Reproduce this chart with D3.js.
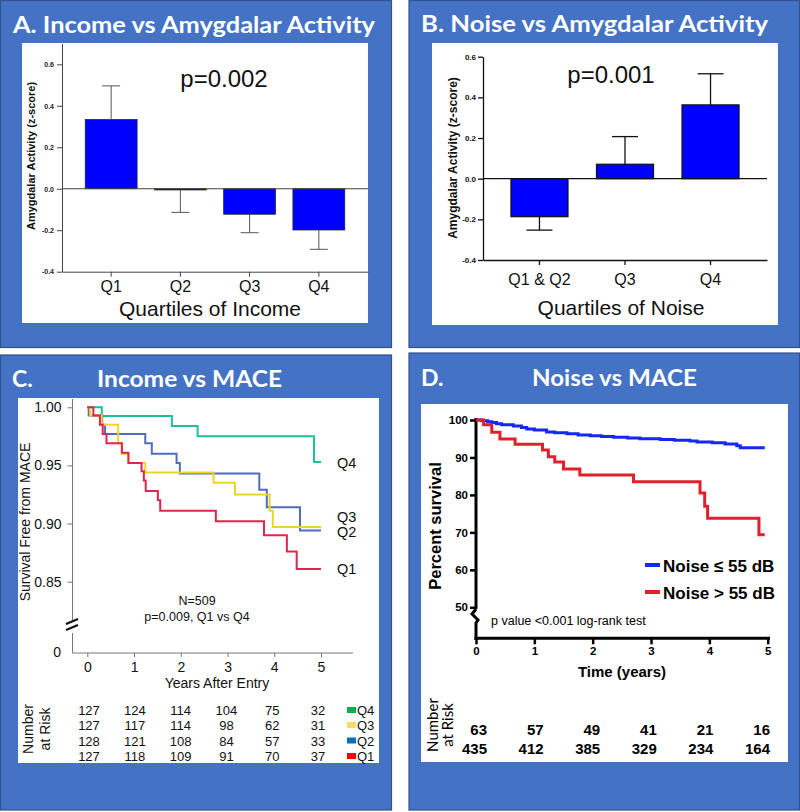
<!DOCTYPE html>
<html><head><meta charset="utf-8">
<script src="https://cdn.jsdelivr.net/npm/d3@7"></script>
<style>body{margin:0;background:#fff}svg{display:block}</style>
</head><body>
<svg id="c" width="800" height="812"></svg>
<script>
// ---------- DATA ----------
const incomeCats = ["Q1", "Q2", "Q3", "Q4"];
const incomeMeans = [0.334, -0.006, -0.123, -0.199];
const incomeErrEnd = [0.496, -0.114, -0.212, -0.292];
const noiseCats = ["Q1 & Q2", "Q3", "Q4"];
const noiseMeans = [-0.187, 0.071, 0.363];
const noiseErrEnd = [-0.253, 0.207, 0.516];
const barTicks = [-0.4, -0.2, 0.0, 0.2, 0.4, 0.6];

// Panel C Kaplan-Meier (years, survival)
const kmQ4 = [[0,1],[0.31,0.9925],[1.81,0.984],[2.36,0.975],[4.85,0.953],[5.0,0.953]];
const kmQ3 = [[0,1],[0.06,0.993],[0.31,0.985],[0.66,0.969],[0.74,0.960],[0.88,0.952],[1.24,0.944],[2.70,0.935],[3.16,0.925],[3.90,0.911],[3.97,0.897],[5.0,0.897]];
const kmQ2 = [[0,1],[0.03,0.993],[0.32,0.985],[0.38,0.977],[1.24,0.969],[1.38,0.960],[1.91,0.952],[1.98,0.943],[3.68,0.929],[3.84,0.914],[4.55,0.894],[5.0,0.894]];
const kmQ1 = [[0,1],[0.13,0.993],[0.27,0.985],[0.33,0.977],[0.41,0.969],[0.74,0.961],[0.88,0.952],[1.16,0.945],[1.21,0.937],[1.25,0.928],[1.51,0.920],[1.56,0.911],[2.75,0.902],[3.78,0.890],[4.27,0.876],[4.48,0.861],[5.0,0.861]];
const kmCTicks = [0.85, 0.90, 0.95, 1.00];
const yearTicks = [0, 1, 2, 3, 4, 5];
const riskQ4 = [127,124,114,104,75,32];
const riskQ3 = [127,117,114,98,62,31];
const riskQ2 = [128,121,108,84,57,33];
const riskQ1 = [127,118,109,91,70,37];

// Panel D Kaplan-Meier (years, percent survival)
const kmLow = [[0,100],[0.10,99.8],[0.20,99.5],[0.27,99.3],[0.35,99.0],[0.44,98.7],[0.64,98.4],[0.78,98.0],[0.87,97.6],[1.0,97.3],[1.21,96.8],[1.35,96.6],[1.56,96.3],[1.75,96.0],[1.96,95.8],[2.15,95.6],[2.36,95.4],[2.6,95.2],[2.81,95.0],[3.16,94.8],[3.4,94.6],[3.67,94.4],[3.79,94.1],[4.05,93.9],[4.27,93.6],[4.47,93.1],[4.53,92.6],[4.95,92.6]];
const kmHigh = [[0,100],[0.13,98.7],[0.27,96.7],[0.41,94.9],[0.67,93.5],[1.14,92.0],[1.24,90.2],[1.35,88.8],[1.50,86.9],[1.78,85.3],[2.70,83.5],[3.84,80.5],[3.92,77.0],[3.97,73.8],[4.85,69.4],[4.95,69.4]];
const kmDTicks = [50, 60, 70, 80, 90, 100];
const riskHigh = [63,57,49,41,21,16];
const riskLow = [435,412,385,329,234,164];

// ---------- DRAW ----------
const svg = d3.select("#c");
const BLUE = "#4472C4", EDGE = "#2F528F";
const ARIAL = "'Liberation Sans', Arial, sans-serif";
const CAL = "Lato, 'Open Sans', sans-serif";

function panel(x, y, w, h, wx, wy, ww, wh) {
  svg.append("rect").attr("x", x).attr("y", y).attr("width", w).attr("height", h)
    .attr("fill", BLUE).attr("stroke", EDGE).attr("stroke-width", 1.2);
  svg.append("rect").attr("x", wx).attr("y", wy).attr("width", ww).attr("height", wh).attr("fill", "#fff");
}
function title(txt, x, y, len, size, anchor) {
  const t = svg.append("text").attr("x", x).attr("y", y).text(txt)
    .attr("font-family", CAL).attr("font-weight", 700).attr("font-size", size)
    .attr("fill", "#fff").attr("text-anchor", anchor || "start");
  if (len) t.attr("textLength", len).attr("lengthAdjust", "spacingAndGlyphs");
  return t;
}

panel(0.5, 0.5, 391, 347, 22, 43, 346, 280);
panel(409, 0.5, 390.5, 347, 432, 43, 346, 282);
panel(0.5, 355, 391, 455, 18, 398, 361, 365);
panel(409, 353, 390.5, 457, 421, 404, 367, 358);

title("A. Income vs Amygdalar Activity", 13, 33, 362, 23);
title("B.  Noise vs Amygdalar Activity", 421, 32, 347, 23);
title("C.", 12, 387, null, 23);
title("Income vs MACE", 97, 387, 185, 23);
title("D.", 421, 386, null, 23);
title("Noise vs MACE", 532, 386, 165, 23);

// ---- Panel A ----
(function () {
  const g = svg.append("g");
  const x = d3.scaleBand(incomeCats, [62, 368]).paddingInner(0.25).paddingOuter(0.335);
  const y = d3.scaleLinear([-0.4, 0.7], [271.7, 43.6]);
  const col = "#444";
  incomeCats.forEach((c, i) => {
    const v = incomeMeans[i];
    g.append("rect").attr("x", x(c)).attr("width", x.bandwidth())
      .attr("y", Math.min(y(v), y(0))).attr("height", Math.max(1, Math.abs(y(v) - y(0))))
      .attr("fill", "#0000FF").attr("stroke", "#222").attr("stroke-width", 0.7);
    const cx = x(c) + x.bandwidth() / 2;
    g.append("line").attr("x1", cx).attr("x2", cx).attr("y1", y(v)).attr("y2", y(incomeErrEnd[i]))
      .attr("stroke", "#555").attr("stroke-width", 1);
    g.append("line").attr("x1", cx - 9).attr("x2", cx + 9).attr("y1", y(incomeErrEnd[i])).attr("y2", y(incomeErrEnd[i]))
      .attr("stroke", "#555").attr("stroke-width", 1);
  });
  g.append("line").attr("x1", 62).attr("x2", 368).attr("y1", y(0)).attr("y2", y(0)).attr("stroke", col).attr("stroke-width", 1);
  const ya = g.append("g").attr("transform", "translate(62,0)")
    .call(d3.axisLeft(y).tickValues(barTicks).tickFormat(d => d.toFixed(1)).tickSize(5).tickSizeOuter(0).tickPadding(3));
  ya.selectAll("path,line").attr("stroke", col);
  ya.selectAll("text").attr("font-family", ARIAL).attr("font-weight", 700).attr("font-size", 7).attr("fill", "#222");
  const xa = g.append("g").attr("transform", "translate(0,271.7)")
    .call(d3.axisBottom(x).tickSize(5).tickSizeOuter(0).tickPadding(4));
  xa.selectAll("path,line").attr("stroke", col);
  xa.selectAll("text").attr("font-family", ARIAL).attr("font-size", 16).attr("fill", "#111");
  g.append("text").attr("transform", "translate(35,156) rotate(-90)").attr("text-anchor", "middle")
    .attr("font-family", ARIAL).attr("font-weight", 700).attr("font-size", 11).attr("fill", "#111")
    .text("Amygdalar Activity (z-score)");
  g.append("text").attr("x", 210).attr("y", 316).attr("text-anchor", "middle")
    .attr("font-family", ARIAL).attr("font-size", 21).attr("fill", "#111").text("Quartiles of Income");
  g.append("text").attr("x", 224).attr("y", 87).attr("text-anchor", "middle")
    .attr("font-family", ARIAL).attr("font-size", 24).attr("fill", "#111").text("p=0.002");
})();

// ---- Panel B ----
(function () {
  const g = svg.append("g");
  const x = d3.scaleBand(noiseCats, [483, 767]).paddingInner(1/3).paddingOuter(0.327);
  const y = d3.scaleLinear([-0.4, 0.6], [260, 56.7]);
  noiseCats.forEach((c, i) => {
    const v = noiseMeans[i];
    g.append("rect").attr("x", x(c)).attr("width", x.bandwidth())
      .attr("y", Math.min(y(v), y(0))).attr("height", Math.abs(y(v) - y(0)))
      .attr("fill", "#0000FF").attr("stroke", "#111").attr("stroke-width", 1.2);
    const cx = x(c) + x.bandwidth() / 2;
    g.append("line").attr("x1", cx).attr("x2", cx).attr("y1", y(v)).attr("y2", y(noiseErrEnd[i]))
      .attr("stroke", "#111").attr("stroke-width", 1.3);
    g.append("line").attr("x1", cx - 13).attr("x2", cx + 13).attr("y1", y(noiseErrEnd[i])).attr("y2", y(noiseErrEnd[i]))
      .attr("stroke", "#111").attr("stroke-width", 1.3);
  });
  g.append("line").attr("x1", 483).attr("x2", 767).attr("y1", y(0)).attr("y2", y(0)).attr("stroke", "#111").attr("stroke-width", 1.3);
  const ya = g.append("g").attr("transform", "translate(483,0)")
    .call(d3.axisLeft(y).tickValues(barTicks).tickFormat(d => d.toFixed(1)).tickSize(5).tickSizeOuter(0).tickPadding(2));
  ya.selectAll("path,line").attr("stroke", "#111").attr("stroke-width", 1.3);
  ya.selectAll("text").attr("font-family", ARIAL).attr("font-weight", 700).attr("font-size", 8).attr("fill", "#111");
  const xa = g.append("g").attr("transform", "translate(0,260)")
    .call(d3.axisBottom(x).tickSize(5).tickSizeOuter(0).tickPadding(8.5));
  xa.selectAll("path,line").attr("stroke", "#111").attr("stroke-width", 1.3);
  xa.selectAll("text").attr("font-family", ARIAL).attr("font-size", 16).attr("fill", "#111");
  g.append("text").attr("transform", "translate(457,158) rotate(-90)").attr("text-anchor", "middle")
    .attr("font-family", ARIAL).attr("font-weight", 700).attr("font-size", 12).attr("fill", "#111")
    .text("Amygdalar Activity (z-score)");
  g.append("text").attr("x", 621).attr("y", 315).attr("text-anchor", "middle")
    .attr("font-family", ARIAL).attr("font-size", 21).attr("fill", "#111").text("Quartiles of Noise");
  g.append("text").attr("x", 611).attr("y", 83).attr("text-anchor", "middle")
    .attr("font-family", ARIAL).attr("font-size", 24).attr("fill", "#111").text("p=0.001");
})();

// ---- Panel C ----
(function () {
  const g = svg.append("g");
  const x = d3.scaleLinear([0, 5], [87.3, 321]);
  const y = d3.scaleLinear([0.8, 1.0], [639.8, 407.3]);
  const col = "#777";
  g.append("line").attr("x1", 72.5).attr("x2", 72.5).attr("y1", 399).attr("y2", 620).attr("stroke", col);
  g.append("line").attr("x1", 72.5).attr("x2", 72.5).attr("y1", 633).attr("y2", 653).attr("stroke", col);
  g.append("line").attr("x1", 66).attr("x2", 78).attr("y1", 624).attr("y2", 619).attr("stroke", "#111").attr("stroke-width", 2.2);
  g.append("line").attr("x1", 66).attr("x2", 78).attr("y1", 630).attr("y2", 625).attr("stroke", "#111").attr("stroke-width", 2.2);
  const ya = g.append("g").attr("transform", "translate(72.5,0)")
    .call(d3.axisLeft(y).tickValues(kmCTicks).tickFormat(d3.format(".2f")).tickSize(5).tickPadding(6));
  ya.select("path").remove();
  ya.selectAll("line").attr("stroke", col);
  ya.selectAll("text").attr("font-family", ARIAL).attr("font-size", 14).attr("fill", "#111");
  g.append("text").attr("x", 61).attr("y", 657).attr("text-anchor", "end")
    .attr("font-family", ARIAL).attr("font-size", 14).attr("fill", "#111").text("0");
  const xa = g.append("g").attr("transform", "translate(0,653)")
    .call(d3.axisBottom(x).tickValues(yearTicks).tickFormat(d3.format("d")).tickSize(4).tickSizeOuter(0).tickPadding(5));
  xa.select("path").remove();
  g.append("line").attr("x1", 72.5).attr("x2", 353).attr("y1", 653).attr("y2", 653).attr("stroke", col);
  xa.selectAll("line").attr("stroke", col);
  xa.selectAll("text").attr("font-family", ARIAL).attr("font-size", 14).attr("fill", "#111");
  g.append("text").attr("x", 217).attr("y", 688).attr("text-anchor", "middle")
    .attr("font-family", ARIAL).attr("font-size", 14).attr("fill", "#111").text("Years After Entry");
  g.append("text").attr("transform", "translate(30,522) rotate(-90)").attr("text-anchor", "middle")
    .attr("font-family", ARIAL).attr("font-size", 14).attr("fill", "#111").text("Survival Free from MACE");
  const line = d3.line().x(d => x(d[0])).y(d => y(d[1])).curve(d3.curveStepAfter);
  const series = [
    {d: kmQ4, c: "#1FC0A0"},
    {d: kmQ2, c: "#4F6DBE"},
    {d: kmQ3, c: "#EBD52A"},
    {d: kmQ1, c: "#E3244B"}
  ];
  series.forEach(s => {
    g.append("path").attr("d", line(s.d)).attr("fill", "none").attr("stroke", s.c)
      .attr("stroke-width", 2).attr("stroke-linejoin", "miter");
  });
  const labY = {Q4: 468, Q3: 522, Q2: 537, Q1: 574};
  Object.keys(labY).forEach(k => {
    g.append("text").attr("x", 337).attr("y", labY[k]).attr("font-family", ARIAL).attr("font-size", 14.5)
      .attr("fill", "#111").text(k);
  });
  g.append("text").attr("x", 197).attr("y", 605).attr("text-anchor", "middle")
    .attr("font-family", ARIAL).attr("font-size", 12.5).attr("fill", "#111").text("N=509");
  g.append("text").attr("x", 197).attr("y", 621).attr("text-anchor", "middle")
    .attr("font-family", ARIAL).attr("font-size", 12.5).attr("fill", "#111").text("p=0.009, Q1 vs Q4");
  const rx = d3.scaleLinear([0, 5], [89, 318]);
  const rows = [
    {v: riskQ4, c: "#00B050", lab: "Q4", y: 715},
    {v: riskQ3, c: "#FFD966", lab: "Q3", y: 730},
    {v: riskQ2, c: "#0070C0", lab: "Q2", y: 745.5},
    {v: riskQ1, c: "#FF0000", lab: "Q1", y: 761}
  ];
  rows.forEach(r => {
    r.v.forEach((n, i) => {
      g.append("text").attr("x", rx(yearTicks[i])).attr("y", r.y).attr("text-anchor", "middle")
        .attr("font-family", ARIAL).attr("font-size", 13).attr("fill", "#111").text(n);
    });
    g.append("rect").attr("x", 347).attr("y", r.y - 8).attr("width", 9).attr("height", 6).attr("fill", r.c);
    g.append("text").attr("x", 357).attr("y", r.y).attr("font-family", ARIAL).attr("font-size", 13)
      .attr("fill", "#111").text(r.lab);
  });
  g.append("text").attr("transform", "translate(33,729) rotate(-90)").attr("text-anchor", "middle")
    .attr("font-family", ARIAL).attr("font-size", 14).attr("fill", "#111").text("Number");
  g.append("text").attr("transform", "translate(50,729) rotate(-90)").attr("text-anchor", "middle")
    .attr("font-family", ARIAL).attr("font-size", 14).attr("fill", "#111").text("at Risk");
})();

// ---- Panel D ----
(function () {
  const g = svg.append("g");
  const x = d3.scaleLinear([0, 5], [476, 767.7]);
  const y = d3.scaleLinear([50, 100], [607.3, 420]);
  g.append("line").attr("x1", 476).attr("x2", 476).attr("y1", 418).attr("y2", 609).attr("stroke", "#000").attr("stroke-width", 3);
  g.append("path").attr("d", "M476,609 L472,614 L478,620 L476,623 L476,640").attr("fill", "none")
    .attr("stroke", "#000").attr("stroke-width", 3);
  g.append("line").attr("x1", 474.5).attr("x2", 770).attr("y1", 638.3).attr("y2", 638.3).attr("stroke", "#000").attr("stroke-width", 3);
  const ya = g.append("g").attr("transform", "translate(476,0)")
    .call(d3.axisLeft(y).tickValues(kmDTicks).tickSize(6).tickPadding(2));
  ya.select("path").remove();
  ya.selectAll("line").attr("stroke", "#000").attr("stroke-width", 2.5);
  ya.selectAll("text").attr("font-family", ARIAL).attr("font-weight", 700).attr("font-size", 11.5).attr("fill", "#000");
  const xa = g.append("g").attr("transform", "translate(0,638.3)")
    .call(d3.axisBottom(x).tickValues(yearTicks).tickFormat(d3.format("d")).tickSize(6).tickPadding(3));
  xa.select("path").remove();
  xa.selectAll("line").attr("stroke", "#000").attr("stroke-width", 2.5);
  xa.selectAll("text").attr("font-family", ARIAL).attr("font-weight", 700).attr("font-size", 11.5).attr("fill", "#000");
  g.append("text").attr("x", 622).attr("y", 677).attr("text-anchor", "middle")
    .attr("font-family", ARIAL).attr("font-weight", 700).attr("font-size", 15).attr("fill", "#000").text("Time (years)");
  g.append("text").attr("transform", "translate(441,526) rotate(-90)").attr("text-anchor", "middle")
    .attr("font-family", ARIAL).attr("font-weight", 700).attr("font-size", 16.5).attr("fill", "#000").text("Percent survival");
  const line = d3.line().x(d => x(d[0])).y(d => y(d[1])).curve(d3.curveStepAfter);
  g.append("path").attr("d", line(kmLow)).attr("fill", "none").attr("stroke", "#1428F0").attr("stroke-width", 3);
  g.append("path").attr("d", line(kmHigh)).attr("fill", "none").attr("stroke", "#E2202C").attr("stroke-width", 3);
  const leg = [{c: "#1428F0", t: "Noise \u2264 55 dB", y: 565}, {c: "#E2202C", t: "Noise > 55 dB", y: 592}];
  leg.forEach(l => {
    g.append("line").attr("x1", 645).attr("x2", 660).attr("y1", l.y).attr("y2", l.y).attr("stroke", l.c).attr("stroke-width", 4);
    g.append("text").attr("x", 663).attr("y", l.y + 6.5).attr("font-family", ARIAL).attr("font-weight", 700)
      .attr("font-size", 17).attr("fill", "#000").text(l.t);
  });
  g.append("text").attr("x", 491).attr("y", 625).attr("font-family", ARIAL).attr("font-size", 12.5)
    .attr("fill", "#000").text("p value <0.001 log-rank test");
  const rx = d3.scaleLinear([0, 5], [487, 770]);
  [{v: riskHigh, y: 735}, {v: riskLow, y: 754}].forEach(r => {
    r.v.forEach((n, i) => {
      g.append("text").attr("x", rx(yearTicks[i])).attr("y", r.y).attr("text-anchor", "end")
        .attr("font-family", ARIAL).attr("font-weight", 700).attr("font-size", 15).attr("fill", "#000").text(n);
    });
  });
  g.append("text").attr("transform", "translate(438,725) rotate(-90)").attr("text-anchor", "middle")
    .attr("font-family", CAL).attr("font-size", 15).attr("fill", "#000").text("Number");
  g.append("text").attr("transform", "translate(453,725) rotate(-90)").attr("text-anchor", "middle")
    .attr("font-family", CAL).attr("font-size", 15).attr("fill", "#000").text("at Risk");
})();
</script>
</body></html>
